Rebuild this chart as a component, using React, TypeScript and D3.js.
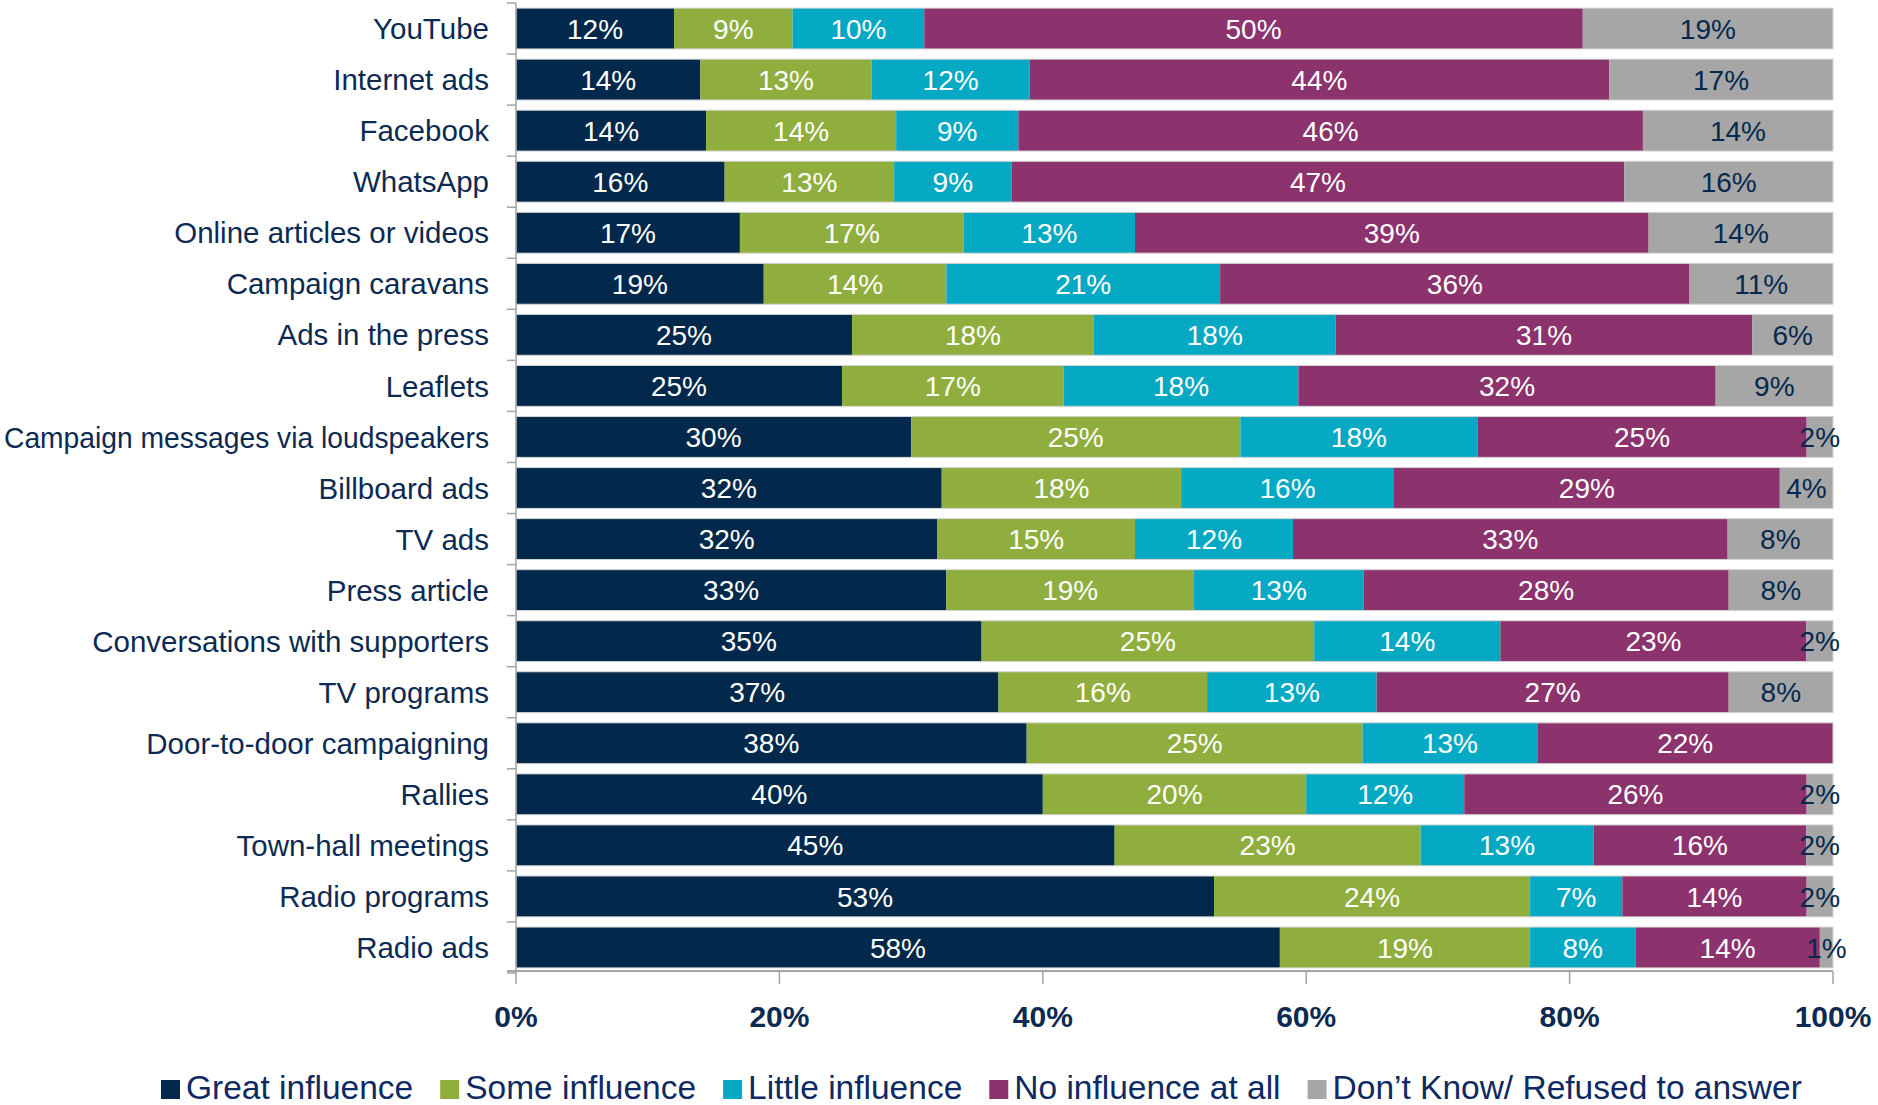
import React from 'react';
import * as d3 from 'd3';

const categories = [
  'YouTube', 'Internet ads', 'Facebook', 'WhatsApp', 'Online articles or videos',
  'Campaign caravans', 'Ads in the press', 'Leaflets', 'Campaign messages via loudspeakers',
  'Billboard ads', 'TV ads', 'Press article', 'Conversations with supporters', 'TV programs',
  'Door-to-door campaigning', 'Rallies', 'Town-hall meetings', 'Radio programs', 'Radio ads'
];

const seriesNames = ['Great influence', 'Some influence', 'Little influence', 'No influence at all', 'Don\u2019t Know/ Refused to answer'];

const greatInfluence = [12, 14, 14, 16, 17, 19, 25, 25, 30, 32, 32, 33, 35, 37, 38, 40, 45, 53, 58];
const someInfluence = [9, 13, 14, 13, 17, 14, 18, 17, 25, 18, 15, 19, 25, 16, 25, 20, 23, 24, 19];
const littleInfluence = [10, 12, 9, 9, 13, 21, 18, 18, 18, 16, 12, 13, 14, 13, 13, 12, 13, 7, 8];
const noInfluence = [50, 44, 46, 47, 39, 36, 31, 32, 25, 29, 33, 28, 23, 27, 22, 26, 16, 14, 14];
const dontKnow = [19, 17, 14, 16, 14, 11, 6, 9, 2, 4, 8, 8, 2, 8, 0, 2, 2, 2, 1];

const xTicks = [0, 0.2, 0.4, 0.6, 0.8, 1];

const colors = ['#02294b', '#8fae3e', '#05a9c3', '#8c326d', '#a6a6a6'];
const labelColors = ['#fff', '#fff', '#fff', '#fff', '#04294d'];
const textColor = '#0c2a52';
const axisColor = '#a3a3a3';
const font = 'Liberation Sans, Arial, sans-serif';

const W = 1878, H = 1105;

function measure(text: string, size: number) {
  const ctx = document.createElement('canvas').getContext('2d');
  if (!ctx) return text.length * size * 0.5;
  ctx.font = `${size}px ${font}`;
  return ctx.measureText(text).width;
}

export default function App() {
  const series = [greatInfluence, someInfluence, littleInfluence, noInfluence, dontKnow];
  const rows = categories.map((c, i) => {
    const r: any = { cat: c };
    series.forEach((s, k) => { r['k' + k] = s[i]; });
    return r;
  });
  const keys = series.map((_, k) => 'k' + k);
  // 100% stacked: each row is normalised to its own total
  const stacked = d3.stack().keys(keys).offset(d3.stackOffsetExpand)(rows);

  const x = d3.scaleLinear().domain([0, 1]).range([516, 1833]);
  const y = d3.scaleBand().domain(categories).range([3, 973]).paddingInner(0.2).paddingOuter(0.1);
  const bandEdges = d3.range(categories.length + 1).map(i => 3 + i * (970 / categories.length));

  const catSize = 29.5;
  const labelRight = 489;
  const maxLabel = labelRight - 4;

  const legendSize = 33.5;
  const sw = 19;
  const items = seriesNames.map(n => measure(n, legendSize));
  const legendX: number[] = [];
  let cx = 161;
  items.forEach((w) => { legendX.push(cx); cx += sw + 6 + w + 27; });

  return (
    <svg width={W} height={H} style={{ position: 'absolute', left: 0, top: 0, background: '#fff' }} fontFamily={font}>
      {stacked.map((layer, k) => (
        <g key={k}>
          {layer.map((d, i) => (
            <rect key={i} x={x(d[0])} y={y(categories[i])} width={Math.max(0, x(d[1]) - x(d[0]))}
              height={y.bandwidth()} fill={colors[k]} />
          ))}
        </g>
      ))}
      {categories.map((c, i) => (
        <rect key={'o' + i} x={x(0)} y={y(c)} width={x(1) - x(0)} height={y.bandwidth()}
          fill="none" stroke="#d4d4d4" strokeWidth={1} />
      ))}
      {stacked.map((layer, k) => (
        <g key={'l' + k}>
          {layer.map((d, i) => series[k][i] > 0 ? (
            <text key={i} x={(x(d[0]) + x(d[1])) / 2} y={(y(categories[i]) as number) + y.bandwidth() / 2}
              dy="0.36em" textAnchor="middle" fontSize={28} fill={labelColors[k]}>
              {series[k][i]}%
            </text>
          ) : null)}
        </g>
      ))}
      {/* y axis */}
      <line x1={x(0)} x2={x(0)} y1={bandEdges[0]} y2={bandEdges[bandEdges.length - 1]} stroke={axisColor} strokeWidth={1.5} />
      {bandEdges.map((e, i) => (
        <line key={i} x1={x(0) - 9} x2={x(0)} y1={e} y2={e} stroke={axisColor} strokeWidth={1.5} />
      ))}
      {categories.map((c) => {
        const w = measure(c, catSize);
        return (
          <text key={c} x={labelRight} y={(y(c) as number) + y.bandwidth() / 2} dy="0.36em" textAnchor="end"
            fontSize={catSize} fill={textColor}
            {...(w > maxLabel ? { textLength: maxLabel, lengthAdjust: 'spacingAndGlyphs' } : {})}>{c}</text>
        );
      })}
      {/* x axis */}
      <line x1={x(0) - 9} x2={x(1)} y1={971} y2={971} stroke={axisColor} strokeWidth={2} />
      {xTicks.map(t => (
        <g key={t}>
          <line x1={x(t)} x2={x(t)} y1={971} y2={984} stroke={axisColor} strokeWidth={1.5} />
          <text x={x(t)} y={1016} dy="0.36em" textAnchor="middle" fontSize={30} fontWeight={600} fill={textColor}>
            {d3.format('.0%')(t)}
          </text>
        </g>
      ))}
      {/* legend */}
      {seriesNames.map((n, k) => (
        <g key={n}>
          <rect x={legendX[k]} y={1080} width={sw} height={sw} fill={colors[k]} />
          <text x={legendX[k] + sw + 6} y={1099} fontSize={legendSize} fill="#0e2a62">{n}</text>
        </g>
      ))}
    </svg>
  );
}
